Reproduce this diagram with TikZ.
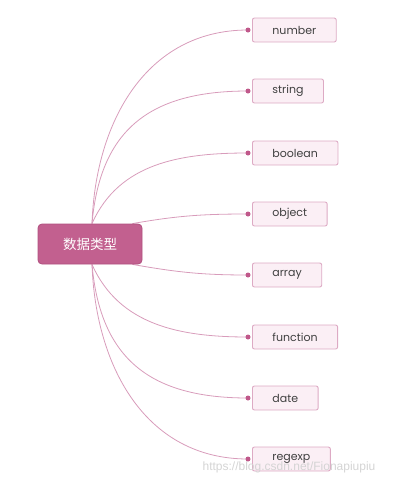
\documentclass[tikz,border=0pt]{standalone}
\usepackage{fontspec}
\usetikzlibrary{backgrounds}
\setmainfont{Poppins}
\newfontfamily\cjk{Noto Sans CJK SC}
\newfontfamily\markfont{Liberation Sans}
\definecolor{rootpink}{HTML}{C2608F}
\definecolor{rootedge}{HTML}{B04F7E}
\definecolor{leaffill}{HTML}{FBEFF5}
\definecolor{leafedge}{HTML}{DDAAC4}
\definecolor{linkpink}{HTML}{D89CBB}
\definecolor{dotpink}{HTML}{C0588A}

\begin{document}
\begin{tikzpicture}[x=1pt,y=-1pt,
    root_node/.style={rectangle,rounded corners=4pt,draw=rootedge,fill=rootpink,line width=0.8pt,
        minimum width=104pt,minimum height=40pt,text=white,font=\cjk\fontsize{13.5}{13.5}\selectfont},
    leaf_node/.style={rectangle,rounded corners=2pt,draw=leafedge,fill=leaffill,line width=0.9pt,
        minimum height=24pt,inner xsep=20pt,anchor=west,text=black!75,font=\fontsize{11}{11}\selectfont},
    link/.style={draw=linkpink,line width=0.8pt},
    tip/.style={circle,fill=dotpink,inner sep=0pt,minimum size=5pt}]
    \useasboundingbox (0,0) rectangle (413,485);

    \node[root_node] (root) at (90, 244) {数据类型};

    \node[leaf_node] (number) at (252, 30) {number};
    \node[leaf_node] (string) at (252, 91) {string};
    \node[leaf_node] (boolean) at (252, 153) {boolean};
    \node[leaf_node] (object) at (252, 214) {object};
    \node[leaf_node] (array) at (252, 275) {array};
    \node[leaf_node] (function) at (252, 337) {function};
    \node[leaf_node] (date) at (252, 398) {date};
    \node[leaf_node] (regexp) at (252, 459) {regexp};

    % ends of the links, just left of each box
    \foreach \leaf in {number,string,boolean,object,array,function,date,regexp}
        \coordinate (\leaf-end) at ([xshift=-4pt]\leaf.west);
    \coordinate (root-n) at ([xshift=2pt]root.north);
    \coordinate (root-s) at ([xshift=2pt]root.south);
    \coordinate (root-ne) at ([xshift=-10pt]root.north east);
    \coordinate (root-se) at ([xshift=-10pt]root.south east);

    \begin{scope}[on background layer]
    \draw[link] (root-n) to[out=88,in=180,looseness=1.05] (number-end);
    \draw[link] (root-n) to[out=85,in=180,looseness=1.2] (string-end);
    \draw[link] (root-n) to[out=66,in=180] (boolean-end);
    \draw[link] (root-ne) to[out=10,in=180] (object-end);
    \draw[link] (root-se) to[out=-10,in=180] (array-end);
    \draw[link] (root-s) to[out=-66,in=180] (function-end);
    \draw[link] (root-s) to[out=-85,in=180,looseness=1.2] (date-end);
    \draw[link] (root-s) to[out=-88,in=180,looseness=1.05] (regexp-end);
    \end{scope}

    \foreach \leaf in {number,string,boolean,object,array,function,date,regexp}
        \node[tip] at (\leaf-end) {};

    \node[text=black!17,font=\markfont\fontsize{12}{12}\selectfont] (mark) at (289, 467) {https://blog.csdn.net/Fionapiupiu};
\end{tikzpicture}
\end{document}
